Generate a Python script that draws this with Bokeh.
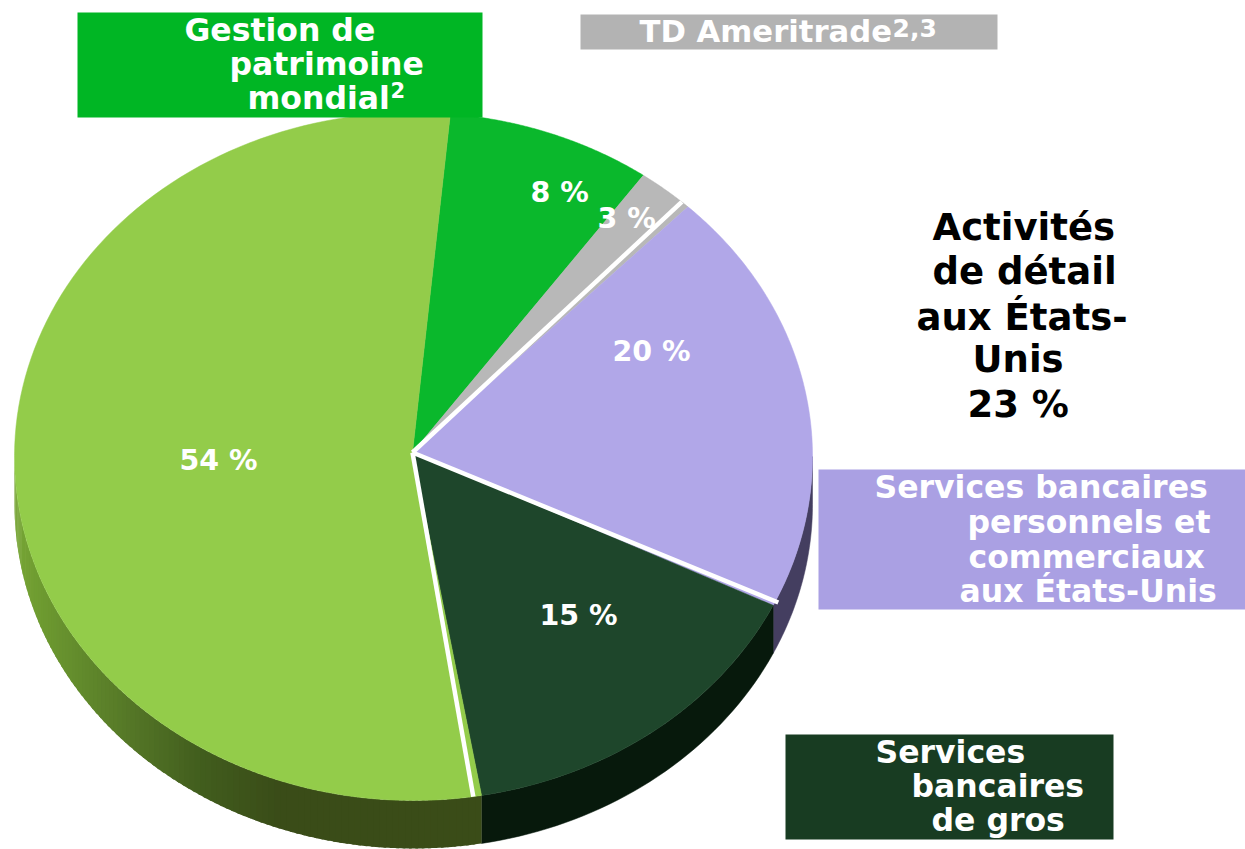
import numpy as np
from bokeh.plotting import figure
from bokeh.embed import file_html
from bokeh.resources import INLINE
from bokeh.core.properties import value

# ---- data (clockwise from the top of the pie)
segments = ["Gestion de patrimoine mondial", "TD Ameritrade",
            "Services bancaires personnels et commerciaux aux États-Unis",
            "Services bancaires de gros", "Services bancaires au Canada"]
drawn_shares = [8.3, 2.3, 20.05, 15.15, 54.2]
share_labels = ["8 %", "3 %", "20 %", "15 %", "54 %"]
top_colors = ["#0ab82c", "#b8b8b8", "#b1a7e8", "#1e462b", "#93cc4a"]
wall_colors = [None, None, "#443e60", "#07190c", None]

# ---- layout, in page pixels
W, H = 1245, 849
CX, CY, RX, RY = 413.0, 456.0, 399.0, 344.0
HUB = (412.0, 452.0)
DEPTH = 48.0
START = 5.3
FONT = value("DejaVu Sans")
SIZE = 31.5


def pt(deg, k=1.0):
    t = np.radians(deg)
    return CX + k * RX * np.sin(t), CY - k * RY * np.cos(t)


p = figure(width=W, height=H, x_range=(0, W), y_range=(H, 0),
           output_backend="svg", toolbar_location=None, min_border=0,
           x_axis_type=None, y_axis_type=None, outline_line_color=None)
p.grid.visible = False
p.background_fill_color = "white"
p.border_fill_color = "white"

edges = START + np.cumsum([0] + drawn_shares) * 3.6

# ---- side wall
def wall_poly(a, b, n=40):
    d = np.linspace(a, b, n)
    x, y = pt(d)
    return list(x) + list(x[::-1]), list(y) + list(y[::-1] + DEPTH)

for i in (2, 3):
    a = max(edges[i], 90)
    xs, ys = wall_poly(a, edges[i + 1])
    p.patch(xs, ys, fill_color=wall_colors[i], line_color=wall_colors[i], line_width=0.5)

# shaded wall of the largest slice: colour follows the horizontal position
stop_x = [14, 40, 130, 200, 280, 500]
stop_rgb = np.array([[0x78, 0xa6, 0x36], [0x6e, 0x9b, 0x31], [0x55, 0x77, 0x27],
                     [0x42, 0x5e, 0x1e], [0x3a, 0x4c, 0x18], [0x3a, 0x4c, 0x18]])
ang = np.linspace(edges[4], 270, 110)
for a, b in zip(ang[:-1], ang[1:]):
    xs, ys = wall_poly(a, b + 0.4, 3)
    xm = pt((a + b) / 2)[0]
    c = [int(np.interp(xm, stop_x, stop_rgb[:, k])) for k in range(3)]
    col = "#%02x%02x%02x" % tuple(c)
    p.patch(xs, ys, fill_color=col, line_color=None)

# ---- top face
for i in range(5):
    d = np.linspace(edges[i], edges[i + 1], 120)
    x, y = pt(d)
    p.patch([HUB[0]] + list(x), [HUB[1]] + list(y), fill_color=top_colors[i],
            line_color=top_colors[i], line_width=0.5)

# ---- white separators of the "Activités de détail aux États-Unis" group
for deg, k in ((edges[2] - 1.2, 1.0), (edges[3] - 0.74, 1.008), (edges[4] + 1.2, 1.0)):
    ex, ey = pt(deg, k)
    p.line([HUB[0], ex], [HUB[1], ey], line_color="white", line_width=4.5)

# ---- label boxes
p.quad(left=[77, 580, 818, 785], right=[482, 997, 1245, 1113],
       top=[12, 14, 469, 734], bottom=[117, 49, 609, 839],
       fill_color=["#00b624", "#b3b3b3", "#aaa0e3", "#183c22"], line_color=None)


def label(x, y, s, color="white", size=SIZE):
    p.text([x], [y - 1], text=[s], text_color=color, text_font=FONT, text_font_style="bold",
           text_font_size=f"{size}px", text_align="left", text_baseline="middle")


for x, y, s in [(184, 30, "Gestion de"), (229, 64, "patrimoine"), (247, 98, "mondial"),
                (874, 487, "Services bancaires"), (967, 522, "personnels et"),
                (968, 557, "commerciaux"), (959, 591, "aux États-Unis"),
                (875, 752, "Services"), (911, 786, "bancaires"), (931, 820, "de gros")]:
    label(x, y, s)
label(639, 32, "TD Ameritrade", size=30.7)
label(390, 90, "2", size=21)
label(892, 28, "2,3", size=25)

for x, y, s in [(932, 228, "Activités"), (932, 272, "de détail"), (916, 318, "aux États-"),
                (972, 360, "Unis"), (967, 405, "23 %")]:
    label(x, y, s, color="black", size=37)

for (x, y), s in zip([(530, 193), (597, 219), (612, 352), (539, 616), (179, 461)], share_labels):
    label(x, y, s, size=28.5)

open("out.html", "w").write(file_html(p, INLINE))
